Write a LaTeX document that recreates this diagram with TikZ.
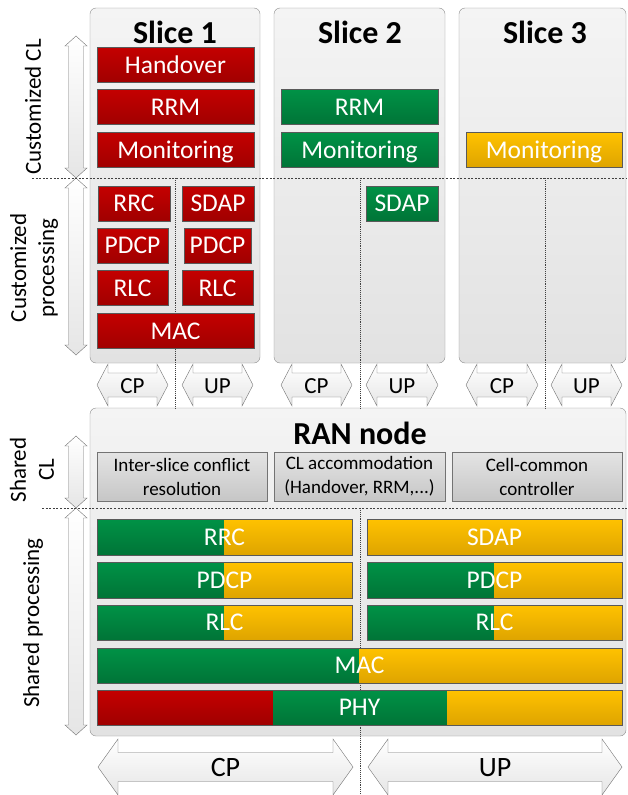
\documentclass[tikz,border=0pt]{standalone}
\usepackage{fontspec}
\setmainfont{Carlito}

\definecolor{redT}{RGB}{196,0,0}
\definecolor{redB}{RGB}{160,0,0}
\definecolor{grnT}{RGB}{0,146,70}
\definecolor{grnB}{RGB}{0,116,55}
\definecolor{ylwT}{RGB}{255,194,0}
\definecolor{ylwB}{RGB}{222,164,0}
\definecolor{gryT}{RGB}{228,228,228}
\definecolor{gryB}{RGB}{198,198,198}
\definecolor{pnlT}{RGB}{244,244,244}
\definecolor{pnlB}{RGB}{226,226,226}

% shaded part of a bar: colour, x1, y1, x2, y2
\newcommand{\halfshade}[5]{\shade[top color=#1T, bottom color=#1B] (#2,#3) rectangle (#4,#5);}
% horizontal double arrow: x1, x2, yc, shaft half, head half, head length
\newcommand{\harrow}[6]{\draw[arrowfill] (#1,#3) -- (#1+#6,#3-#5) -- (#1+#6,#3-#4) -- (#2-#6,#3-#4) -- (#2-#6,#3-#5) -- (#2,#3) -- (#2-#6,#3+#5) -- (#2-#6,#3+#4) -- (#1+#6,#3+#4) -- (#1+#6,#3+#5) -- cycle;}
% vertical double arrow: y1, y2, xc, shaft half, head half, head length
\newcommand{\varrow}[6]{\draw[arrowfill] (#3,#1) -- (#3+#5,#1+#6) -- (#3+#4,#1+#6) -- (#3+#4,#2-#6) -- (#3+#5,#2-#6) -- (#3,#2) -- (#3-#5,#2-#6) -- (#3-#4,#2-#6) -- (#3-#4,#1+#6) -- (#3-#5,#1+#6) -- cycle;}

\tikzset{
  blk/.style={draw=black!65, inner sep=0pt, minimum height=35pt, text=white,
    text height=16.5pt, text depth=0.5pt, font=\fontsize{25.5}{27}\selectfont},
  redblk/.style={blk, top color=redT, bottom color=redB},
  grnblk/.style={blk, top color=grnT, bottom color=grnB},
  ylwblk/.style={blk, top color=ylwT, bottom color=ylwB},
  barframe/.style={blk, minimum height=36pt},
  gryblk/.style={draw=black!55, top color=gryT, bottom color=gryB, inner sep=0pt,
    minimum height=49pt, align=center, font=\fontsize{19}{24}\selectfont},
  panel/.style={draw=black!45, rounded corners=6pt, top color=pnlT, bottom color=pnlB, inner sep=0pt},
  title/.style={font=\bfseries\fontsize{32}{34}\selectfont},
  sep/.style={black!75, line width=0.9pt, dash pattern=on 2pt off 1.6pt},
  lbl/.style={font=\fontsize{23}{28}\selectfont, align=center},
  arrowfill/.style={draw=black!55, top color=white, bottom color=black!10},
}

\begin{document}
\begin{tikzpicture}[x=1pt, y=-1pt]
    \useasboundingbox (0,0) rectangle (627,795);

    % Slice panels
    \node[panel, minimum width=170pt, minimum height=355pt] (pnl1) at (175,185.5) {};
    \node[panel, minimum width=171pt, minimum height=355pt] (pnl2) at (359.5,185.5) {};
    \node[panel, minimum width=167pt, minimum height=355pt] (pnl3) at (542.5,185.5) {};
    \node[title] (tit1) at (175,32) {Slice 1};
    \node[title] (tit2) at (360,32) {Slice 2};
    \node[title] (tit3) at (545,32) {Slice 3};

    % RAN node panel
    \node[panel, minimum width=536pt, minimum height=328pt] (ran) at (358,572) {};
    \node[title] (ranTit) at (360,433) {RAN node};

    % CP / UP split lines
    \draw[sep, densely dotted] (175,178) -- (175,408);
    \draw[sep, densely dotted] (360,178) -- (360,408);
    \draw[sep, densely dotted] (545,178) -- (545,408);
    \draw[sep, densely dotted] (360,508) -- (360,795);

    % Slice 1
    \node[redblk, minimum width=157pt] (ho1) at (175.5,65) {Handover};
    \node[redblk, minimum width=157pt] (rrm1) at (175.5,107) {RRM};
    \node[redblk, minimum width=157pt] (mon1) at (175.5,150) {Monitoring};
    \node[redblk, minimum width=72pt] (rrc1) at (134,203.5) {RRC};
    \node[redblk, minimum width=72pt] (sdap1) at (218,203.5) {SDAP};
    \node[redblk, minimum width=71pt] (pdcpA1) at (132.5,245.5) {PDCP};
    \node[redblk, minimum width=67pt] (pdcpB1) at (217.5,245.5) {PDCP};
    \node[redblk, minimum width=71pt] (rlcA1) at (132.5,288) {RLC};
    \node[redblk, minimum width=71pt] (rlcB1) at (217.5,288) {RLC};
    \node[redblk, minimum width=157pt] (mac1) at (175.5,331) {MAC};

    % Slice 2
    \node[grnblk, minimum width=157pt] (rrm2) at (359.5,107) {RRM};
    \node[grnblk, minimum width=157pt] (mon2) at (359.5,150) {Monitoring};
    \node[grnblk, minimum width=72pt] (sdap2) at (402,203.5) {SDAP};

    % Slice 3
    \node[ylwblk, minimum width=156pt] (mon3) at (544,150) {Monitoring};

    % Shared CL
    \node[gryblk, minimum width=170pt] (conf) at (182,476.5) {Inter-slice conflict\\resolution};
    \node[gryblk, minimum width=171pt] (accom) at (359.5,476.5) {CL accommodation\\(Handover, RRM,...)};
    \node[gryblk, minimum width=170pt] (cellc) at (537,476.5) {Cell-common\\controller};

    % Shared processing
    \halfshade{grn}{97}{519}{224}{555} \halfshade{ylw}{224}{519}{352}{555}
    \halfshade{grn}{97}{562}{224}{598} \halfshade{ylw}{224}{562}{352}{598}
    \halfshade{grn}{97}{605}{224}{640} \halfshade{ylw}{224}{605}{352}{640}
    \halfshade{ylw}{367}{519}{622}{555}
    \halfshade{grn}{367}{562}{494}{598} \halfshade{ylw}{494}{562}{622}{598}
    \halfshade{grn}{367}{605}{494}{640} \halfshade{ylw}{494}{605}{622}{640}
    \halfshade{grn}{97}{648}{359}{683} \halfshade{ylw}{359}{648}{622}{683}
    \halfshade{red}{97}{690}{273}{725} \halfshade{grn}{273}{690}{447}{725} \halfshade{ylw}{447}{690}{622}{725}
    \node[barframe, minimum width=255pt] (rrcS) at (224.5,537) {RRC};
    \node[barframe, minimum width=255pt] (pdcpS) at (224.5,580) {PDCP};
    \node[barframe, minimum width=255pt, minimum height=35pt] (rlcS) at (224.5,622.5) {RLC};
    \node[barframe, minimum width=255pt] (sdapU) at (494.5,537) {SDAP};
    \node[barframe, minimum width=255pt] (pdcpU) at (494.5,580) {PDCP};
    \node[barframe, minimum width=255pt, minimum height=35pt] (rlcU) at (494.5,622.5) {RLC};
    \node[barframe, minimum width=525pt, minimum height=35pt] (macS) at (359.5,665.5) {MAC};
    \node[barframe, minimum width=525pt, minimum height=35pt] (phyS) at (359.5,707.5) {PHY};

    % Left arrows
    \varrow{36}{178}{76}{7.5}{11}{10}
    \varrow{178}{355}{76}{7.5}{11}{10}
    \varrow{436}{508}{76}{7.5}{11}{10}
    \varrow{508}{735}{76}{7.5}{11}{10}
    \node[lbl, rotate=90] (custCL) at (33,107) {Customized CL};
    \node[lbl, rotate=90] (custPr) at (34,268) {Customized\\processing};
    \node[lbl, rotate=90] (shCL) at (32,470) {Shared\\CL};
    \node[lbl, rotate=90] (shPr) at (33,623) {Shared processing};

    % CP / UP arrows of the slices
    \harrow{97}{168}{385}{12}{21}{11}
    \harrow{182}{253}{385}{12}{21}{11}
    \harrow{281}{352}{385}{12}{21}{11}
    \harrow{366}{438}{385}{12}{21}{11}
    \harrow{466}{538}{385}{12}{21}{11}
    \harrow{551}{622}{385}{12}{21}{11}
    \node[lbl] (cp1) at (132.5,386) {CP};
    \node[lbl] (up1) at (217.5,386) {UP};
    \node[lbl] (cp2) at (316.5,386) {CP};
    \node[lbl] (up2) at (402,386) {UP};
    \node[lbl] (cp3) at (502,386) {CP};
    \node[lbl] (up3) at (586.5,386) {UP};

    % CP / UP arrows of the RAN node
    \harrow{98}{353}{767}{14.5}{28}{20}
    \harrow{368}{622}{767}{14.5}{28}{20}
    \node[lbl, font=\fontsize{28}{30}\selectfont] (cpR) at (225.5,768) {CP};
    \node[lbl, font=\fontsize{28}{30}\selectfont] (upR) at (495,768) {UP};

    % CL / processing borders
    \draw[sep] (32,178) -- (627,178);
    \draw[sep] (42,508) -- (627,508);
\end{tikzpicture}
\end{document}
